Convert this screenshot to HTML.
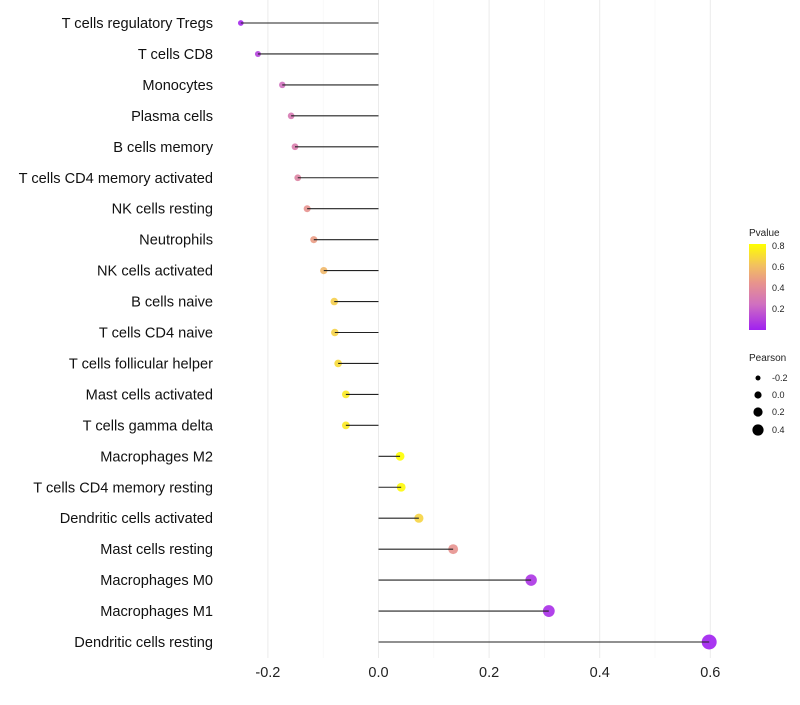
<!DOCTYPE html>
<html><head><meta charset="utf-8"><style>
body{margin:0;background:#fff;font-family:"Liberation Sans",sans-serif}
</style></head><body>
<svg id="chart" width="800" height="700" xmlns="http://www.w3.org/2000/svg">
<defs><linearGradient id="pg" x1="0" y1="1" x2="0" y2="0">
<stop offset="0" stop-color="#a020f0"/><stop offset="0.3" stop-color="#d070c0"/><stop offset="0.55" stop-color="#e8948c"/><stop offset="0.75" stop-color="#f2c060"/><stop offset="1" stop-color="#ffff00"/></linearGradient></defs>
<g id="grid"></g>
<g id="marks"></g>
<g id="ylabels"></g>
<g id="xlabels"></g>
<g font-size="9" fill="#222">
<text x="749" y="236" font-size="10">Pvalue</text>
<rect x="749" y="244" width="17" height="86" fill="url(#pg)"/>
<text x="772" y="249">0.8</text><text x="772" y="270">0.6</text><text x="772" y="291">0.4</text><text x="772" y="312">0.2</text>
</g>
<g font-size="9" fill="#222">
<text x="749" y="361" font-size="10">Pearson</text>
<circle cx="758" cy="378" r="2.5" fill="#000"/><text x="772" y="381">-0.2</text>
<circle cx="758" cy="395" r="3.6" fill="#000"/><text x="772" y="398">0.0</text>
<circle cx="758" cy="412" r="4.6" fill="#000"/><text x="772" y="415">0.2</text>
<circle cx="758" cy="430" r="5.6" fill="#000"/><text x="772" y="433">0.4</text>
</g>
</svg>
<script>
const categories=["T cells regulatory  Tregs","T cells CD8","Monocytes","Plasma cells","B cells memory","T cells CD4 memory activated","NK cells resting","Neutrophils","NK cells activated","B cells naive","T cells CD4 naive","T cells follicular helper","Mast cells activated","T cells gamma delta","Macrophages M2","T cells CD4 memory resting","Dendritic cells activated","Mast cells resting","Macrophages M0","Macrophages M1","Dendritic cells resting"];
const pearson=[-0.249,-0.218,-0.174,-0.158,-0.151,-0.146,-0.129,-0.117,-0.099,-0.080,-0.079,-0.073,-0.059,-0.059,0.039,0.041,0.073,0.135,0.276,0.308,0.598];
const pvalue=[0.02,0.1,0.25,0.3,0.32,0.36,0.44,0.48,0.58,0.66,0.67,0.7,0.75,0.75,0.82,0.8,0.68,0.44,0.06,0.04,0.0];
const xticks=[-0.2,0.0,0.2,0.4,0.6];
const ns="http://www.w3.org/2000/svg";
const X=v=>378.5+v*553;
const Y=i=>23+i*30.95;
const st=[[0,[160,32,240]],[0.3,[208,112,192]],[0.55,[232,148,140]],[0.75,[242,192,96]],[1,[255,255,0]]];
function col(p){const t=Math.max(0,Math.min(1,p/0.82));
for(let k=1;k<st.length;k++){if(t<=st[k][0]){const a=st[k-1],b=st[k],f=(t-a[0])/(b[0]-a[0]);
return`rgb(${a[1].map((c,j)=>Math.round(c+(b[1][j]-c)*f)).join(",")})`;}}return"rgb(255,255,0)";}
function mk(tag,at,par){const e=document.createElementNS(ns,tag);for(const k in at)e.setAttribute(k,at[k]);par.appendChild(e);return e;}
const g=document.getElementById("grid"),m=document.getElementById("marks"),yl=document.getElementById("ylabels"),xl=document.getElementById("xlabels");
for(let v=-0.3;v<=0.65;v+=0.1){const vv=Math.round(v*10)/10;if(X(vv)<222)continue;
const major=xticks.some(t=>Math.abs(t-vv)<1e-9);
const l=mk("line",{x1:X(vv),x2:X(vv),y1:0,y2:658,stroke:major?"#ebebeb":"#f5f5f5","stroke-width":major?1:0.7},g);

}
xticks.forEach(t=>{const e=mk("text",{x:X(t),y:677,"text-anchor":"middle","font-size":14.5,fill:"#222"},xl);e.textContent=t.toFixed(1);

});
categories.forEach((c,i)=>{
const t=mk("text",{x:213,y:Y(i)+5,"text-anchor":"end","font-size":14.6,fill:"#111"},yl);t.textContent=c;


const p=mk("circle",{cx:X(pearson[i]),cy:Y(i),r:Math.max(2,4.2+5.5*pearson[i]),fill:col(pvalue[i]),opacity:0.9},m);


const s=mk("line",{x1:X(0),x2:X(pearson[i]),y1:Y(i),y2:Y(i),stroke:"#222","stroke-width":1.1},m);


});
</script>
</body></html>
